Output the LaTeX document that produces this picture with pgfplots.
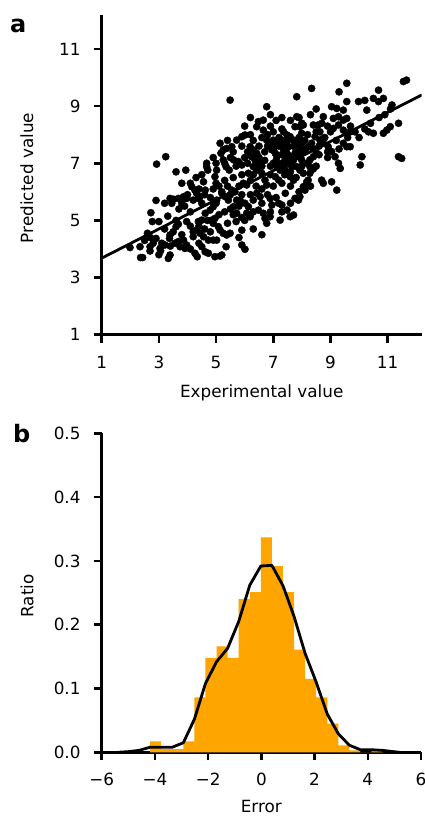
\documentclass[border=0pt]{standalone}
\usepackage{fontspec}
\setmainfont{DejaVu Sans}
\usepackage{pgfplots}
\pgfplotsset{compat=1.18}
\definecolor{mplorange}{HTML}{FFA500}

\pgfplotsset{
  panel/.style={
    scale only axis,
    axis lines*=left,
    axis line style={line width=2.8pt},
    tick align=outside,
    major tick length=8pt,
    every tick/.append style={black, line width=2.5pt},
    tick label style={font=\fontsize{16.8}{20}\selectfont},
    label style={font=\fontsize{16.8}{20}\selectfont},
    /pgf/number format/assume math mode=true,
    yticklabel style={anchor=east, inner sep=0pt, xshift=-13pt},
    ylabel style={at={(axis description cs:-0.214,0.49)}, anchor=base},
  }
}

\begin{document}
\begin{tikzpicture}
\useasboundingbox (0,0) rectangle (425pt,817pt);

% panel a: scatter
\begin{axis}[panel,
  at={(101.7pt,482.3pt)}, anchor=south west,
  width=320pt, height=319.7pt,
  xmin=1, xmax=12.19, ymin=1, ymax=12.19,
  xtick={1,3,5,7,9,11}, ytick={1,3,5,7,9,11},
  xticklabel style={anchor=base, yshift=-25.6pt},
  xlabel style={at={(axis description cs:0.5,-0.196)}, anchor=base},
  xlabel={Experimental value}, ylabel={Predicted value}]
\addplot[only marks, mark=*, mark size=3.6pt, black] coordinates {
(1.99,4.05)(2.34,4.08)(2.36,3.70)(2.43,3.70)(2.69,4.08)(2.69,3.93)(2.72,5.27)(2.77,4.96)
(3.00,4.96)(2.90,4.37)(2.60,4.55)(3.04,4.02)(3.06,3.94)(3.21,4.14)(3.31,5.15)(3.33,3.67)
(3.39,3.79)(2.92,6.97)(3.24,7.23)(3.60,6.70)(3.94,6.76)(3.80,6.30)(3.39,5.77)(3.45,5.60)
(3.51,5.74)(3.68,5.77)(3.86,5.83)(3.97,5.77)(3.39,4.49)(3.37,4.37)(3.56,4.20)(3.68,4.26)
(3.74,4.08)(3.60,4.78)(3.68,4.87)(3.86,4.31)(3.91,4.02)(3.97,4.14)(3.97,4.96)(4.20,4.43)
(4.26,3.85)(4.34,3.73)(4.15,6.18)(4.26,6.06)(4.32,5.95)(4.20,5.71)(4.38,5.77)(4.44,5.83)
(4.56,6.35)(4.62,6.06)(4.67,6.88)(4.67,7.00)(4.71,6.76)(4.38,4.96)(4.50,5.01)(4.62,5.25)
(4.32,4.66)(4.44,4.55)(4.56,4.43)(4.50,4.08)(4.62,3.90)(4.73,3.85)(4.73,4.31)(4.90,4.31)
(5.02,4.31)(4.96,3.73)(5.14,3.75)(5.20,3.79)(4.79,5.36)(4.90,5.48)(5.02,5.71)(4.85,5.01)
(4.96,5.07)(5.08,4.78)(5.14,4.66)(5.25,4.55)(5.37,4.49)(5.49,4.55)(5.35,4.08)(4.96,6.53)
(5.02,6.76)(5.00,7.00)(5.14,7.70)(5.17,7.35)(5.25,7.12)(5.35,6.88)(5.46,6.76)(5.49,9.21)
(5.20,5.95)(5.32,5.83)(5.43,5.71)(5.55,6.06)(5.66,6.00)(5.72,5.71)(5.61,5.48)(5.72,5.25)
(5.70,4.96)(5.90,4.66)(5.90,4.14)(6.01,3.99)(5.25,7.47)(5.37,7.52)(5.55,7.58)(5.72,7.81)
(5.90,7.93)(6.01,7.99)(5.61,7.12)(5.78,7.06)(5.90,6.94)(5.95,6.30)(6.07,6.24)(6.13,6.65)
(5.84,5.71)(6.01,5.60)(6.13,5.48)(6.07,5.25)(6.19,5.13)(6.30,5.71)(6.42,8.28)(6.48,8.46)
(6.65,8.16)(6.77,8.98)(6.65,8.51)(6.19,7.58)(6.30,7.47)(6.42,7.35)(6.24,7.23)(6.36,7.12)
(6.48,7.06)(6.30,6.88)(6.42,6.76)(6.54,6.82)(6.60,6.65)(6.71,6.41)(6.77,6.24)(6.42,5.95)
(6.54,5.83)(6.60,5.60)(6.48,5.36)(6.65,5.25)(6.71,5.07)(6.77,4.90)(6.89,5.77)(6.95,5.54)
(6.89,5.13)(6.77,7.81)(6.89,7.70)(7.00,7.81)(6.95,7.47)(7.07,7.35)(7.13,7.23)(7.00,7.00)
(7.13,6.88)(7.24,6.76)(7.07,6.53)(7.19,6.41)(7.30,6.30)(7.19,5.60)(7.30,5.54)(7.24,5.01)
(7.42,5.95)(7.48,5.36)(7.59,5.13)(7.71,5.19)(7.76,5.77)(7.88,5.71)(7.93,5.83)(7.36,8.10)
(7.48,7.99)(7.59,7.93)(7.30,7.81)(7.42,7.70)(7.53,7.58)(7.36,7.47)(7.48,7.35)(7.59,7.23)
(7.42,7.12)(7.53,7.00)(7.65,6.88)(7.48,6.65)(7.59,6.53)(7.71,6.41)(7.82,9.33)(7.82,8.63)
(7.76,8.28)(7.93,8.28)(8.05,8.34)(7.99,8.05)(7.71,7.81)(7.82,7.70)(7.93,7.58)(7.76,7.35)
(7.88,7.23)(7.99,7.12)(7.82,6.88)(7.93,6.76)(8.05,6.65)(8.05,6.18)(8.11,6.06)(8.17,6.35)
(8.11,7.47)(8.22,7.58)(8.34,7.70)(8.28,7.12)(8.40,7.23)(8.52,7.35)(8.34,9.62)(8.40,8.34)
(8.57,8.34)(8.63,8.10)(8.46,7.93)(8.63,7.81)(8.75,7.87)(8.28,6.88)(8.28,6.65)(8.22,6.41)
(8.69,6.41)(8.75,6.30)(9.04,6.35)(9.22,6.06)(8.75,8.63)(9.04,8.98)(9.10,8.57)(9.22,8.92)
(9.28,8.63)(9.45,8.86)(9.10,8.22)(9.28,8.34)(9.45,8.16)(8.75,7.70)(8.92,7.58)(9.04,7.41)
(9.16,7.23)(9.28,7.00)(9.34,6.82)(9.45,7.70)(9.57,7.58)(9.69,7.58)(9.57,9.80)(9.57,9.16)
(9.45,8.51)(9.57,8.57)(9.69,8.10)(9.86,8.10)(9.98,9.16)(10.10,7.23)(10.04,6.94)(10.27,8.86)
(10.33,8.10)(10.50,8.05)(10.50,9.27)(10.68,9.56)(10.68,9.16)(10.85,9.27)(10.85,8.05)(10.97,8.16)
(11.09,8.28)(11.15,9.04)(11.38,8.40)(11.38,7.23)(11.49,7.17)(11.55,9.86)(11.66,9.91)
(6.60,7.90)(6.80,7.60)(7.00,7.50)(7.20,7.90)(7.40,7.60)(7.10,7.10)(6.90,6.90)(7.30,7.00)
(7.50,7.30)(7.70,7.60)(7.90,7.90)(8.10,7.80)(7.60,7.00)(7.80,6.50)(8.00,7.40)(8.20,7.00)
(6.30,6.60)(6.10,7.00)(5.90,6.60)(5.60,6.50)(5.40,6.20)(5.20,6.00)(5.00,5.60)(4.80,5.80)
(4.50,5.60)(4.10,5.30)(3.90,5.50)(3.60,5.00)(4.40,4.80)(4.70,5.00)(5.60,5.20)(5.80,5.50)
(6.20,5.90)(6.60,6.10)(7.00,6.20)(7.40,6.60)(8.40,7.50)(8.60,7.30)(8.80,7.90)(9.00,8.10)
(8.90,7.20)(6.90,8.30)(7.10,8.50)(7.30,8.20)(6.70,7.40)(6.50,7.20)(7.60,8.50)(8.30,8.70)
(8.00,8.40)(5.70,6.90)(5.50,7.20)(5.30,5.30)(4.90,4.90)(4.60,4.70)(4.20,4.60)(3.50,4.60)
(3.10,4.20)(2.80,4.20)(2.50,4.30)(5.80,4.40)(6.30,4.70)(6.60,4.50)(7.60,6.20)(7.90,6.00)
(8.30,6.20)(8.50,6.90)(9.20,7.80)(9.60,7.90)(10.20,8.20)(10.70,8.60)(6.00,8.30)(5.90,7.60)
(6.20,8.00)(5.00,6.30)(4.30,6.50)(3.70,5.40)(3.20,5.60)(2.90,5.70)
(6.10,7.40)(6.30,7.80)(6.50,7.60)(6.70,7.10)(6.80,8.00)(7.00,8.10)(7.20,7.60)(7.30,7.30)
(7.50,7.80)(7.70,7.10)(7.80,7.40)(8.00,7.70)(7.20,6.90)(7.40,6.80)(7.60,6.70)(6.90,6.60)
(6.60,6.90)(6.20,6.40)(5.80,6.20)(5.50,5.90)(5.30,6.40)(5.10,6.20)(4.90,6.10)(4.60,5.90)
(4.40,6.10)(4.00,5.90)(3.80,5.60)(5.90,5.90)(6.40,6.20)(6.80,5.90)(7.10,5.80)(7.60,5.60)
(7.30,5.30)(6.90,5.30)(6.30,5.30)(5.90,5.10)(5.50,5.40)(5.10,5.20)(4.80,4.60)(4.40,4.20)
(4.10,4.00)(3.80,4.50)(3.40,4.10)(3.00,3.80)(2.70,4.40)(3.20,4.70)(4.10,4.80)(5.40,4.90)
(6.00,5.00)(8.20,8.00)(8.50,8.10)(8.70,8.40)(8.90,8.30)(8.60,7.60)(8.90,7.40)(8.40,6.80)
(8.00,6.90)(9.30,7.50)(9.70,8.30)(10.00,7.90)(10.40,8.40)(7.10,7.70)(6.40,7.00)(6.00,7.20)
(5.60,7.40)(5.30,7.00)(4.90,7.20)(4.50,6.60)(4.10,6.30)(6.90,8.70)(7.30,8.60)(7.90,8.60)
(8.50,8.90)(6.20,8.60)(5.40,7.80)(10.20,9.20)(9.30,9.50)(10.90,8.70)(11.10,8.90)
};
\addplot[black, line width=2.8pt] coordinates {(1,3.68) (12.19,9.39)};
\end{axis}

% panel b: error histogram
\begin{axis}[panel,
  at={(101.7pt,64.7pt)}, anchor=south west,
  width=319.3pt, height=319pt,
  xmin=-6, xmax=6, ymin=0, ymax=0.5,
  xtick={-6,-4,-2,0,2,4,6}, xticklabels={−6,−4,−2,0,2,4,6},
  ytick={0,0.1,0.2,0.3,0.4,0.5}, yticklabels={0.0,0.1,0.2,0.3,0.4,0.5},
  xticklabel style={anchor=base, yshift=-24.7pt},
  xlabel style={at={(axis description cs:0.5,-0.19)}, anchor=base},
  xlabel={Error}, ylabel={Ratio}]
\addplot[ybar interval, fill=mplorange, draw=none] coordinates {
(-4.179,0.017)(-3.763,0.005)(-3.347,0.005)(-2.931,0.017)(-2.515,0.086)(-2.099,0.148)
(-1.683,0.166)(-1.267,0.148)(-0.851,0.240)(-0.435,0.251)(-0.019,0.337)(0.397,0.292)
(0.813,0.251)(1.229,0.161)(1.645,0.115)(2.061,0.086)(2.477,0.045)(2.893,0.011)
(3.309,0.003)(3.725,0.000)(4.141,0.005)(4.557,0.000)
};
\addplot[black, line width=2.8pt, line join=round] coordinates {
(-5.40,0.000)(-5.011,0.001)(-4.595,0.003)(-4.179,0.008)(-3.763,0.008)(-3.347,0.008)
(-2.931,0.015)(-2.515,0.052)(-2.099,0.108)(-1.683,0.142)(-1.267,0.163)(-0.851,0.205)
(-0.435,0.262)(-0.019,0.292)(0.397,0.293)(0.813,0.261)(1.229,0.213)(1.645,0.155)
(2.061,0.110)(2.477,0.060)(2.893,0.029)(3.309,0.011)(3.725,0.004)(4.141,0.004)
(4.557,0.003)(4.973,0.001)(5.20,0.000)
};
\end{axis}

\node[anchor=base west, inner sep=0pt, font=\fontsize{24}{28}\selectfont\bfseries] at (10pt,784pt) {a};
\node[anchor=base west, inner sep=0pt, font=\fontsize{24}{28}\selectfont\bfseries] at (13pt,374pt) {b};
\end{tikzpicture}
\end{document}
